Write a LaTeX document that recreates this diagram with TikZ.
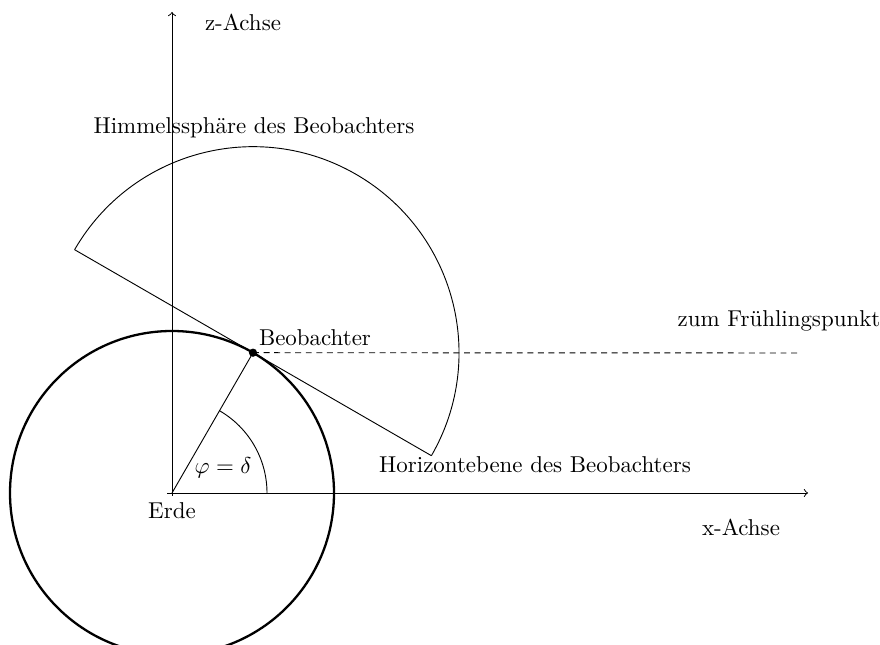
\documentclass[tikz,border=0pt]{standalone}
\begin{document}
\begin{tikzpicture}[x=0.436pt, y=0.436pt, every node/.style={font=\normalsize, inner sep=0pt}]
            \useasboundingbox (0,0) rectangle (880,645);
            % Erde, Beobachter, Achsen
            \coordinate (erde) at (172,152);
            \coordinate (zend) at (172,633);
            \coordinate (xend) at (808,152);
            \path (erde) ++(60:162) coordinate (beob);
            \path (beob) ++(150:206) coordinate (hlinks);
            \path (beob) ++(-30:206) coordinate (hrechts);
            \coordinate (fpunkt) at (797,292);
            \draw[->] (erde) ++(-5,0) -- (xend);
            \draw[->] (erde) ++(0,-3) -- (zend);
            \draw[line width=1pt] (erde) circle[radius=162];
            \draw (erde) -- (beob);
            \draw (erde) ++(95,0) arc[start angle=0, end angle=60, radius=95];
            % Horizontebene und Himmelssphaere
            \draw (hlinks) -- (hrechts);
            \draw (hlinks) arc[start angle=150, end angle=-30, radius=206];
            \draw[dash pattern=on 2.6pt off 2pt] (beob) -- (fpunkt);
            \fill (beob) circle[radius=1.8pt];
            % Beschriftungen
            \node (zlabel) at (243,623) {z-Achse};
            \node (xlabel) at (741,118) {x-Achse};
            \node (erdelabel) at (172,134) {Erde};
            \node (winkel) at (223,177) {$\varphi=\delta$};
            \node (sphlabel) at (254,517) {Himmelssphäre des Beobachters};
            \node (beoblabel) at (315,307) {Beobachter};
            \node (fplabel) at (779,324) {zum Frühlingspunkt};
            \node (hlabel) at (535,180) {Horizontebene des Beobachters};
        \end{tikzpicture}
\end{document}
